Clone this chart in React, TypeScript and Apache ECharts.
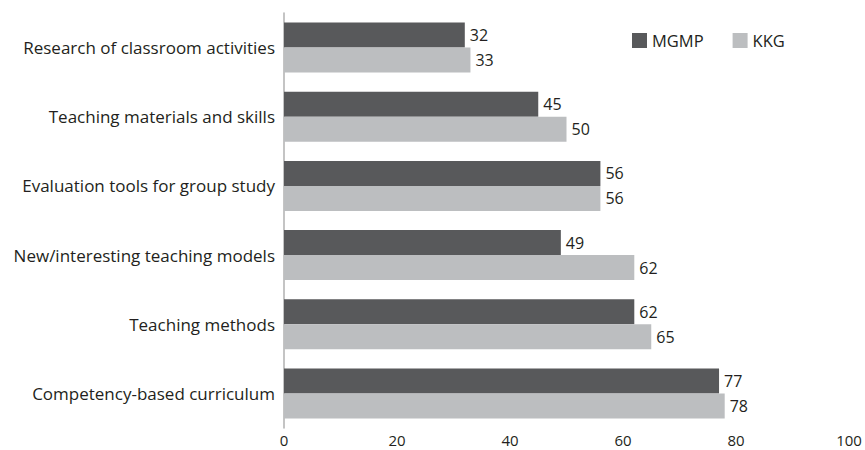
import React, { useEffect, useRef } from "react";
import * as echarts from "echarts";

const categories = [
  "Competency-based curriculum",
  "Teaching methods",
  "New/interesting teaching models",
  "Evaluation tools for group study",
  "Teaching materials and skills",
  "Research of classroom activities",
];
const mgmp = [77, 62, 49, 56, 45, 32];
const kkg = [78, 65, 62, 56, 50, 33];
const xTicks = { min: 0, max: 100, interval: 20 };

const FONT = "'Open Sans', 'Noto Sans', sans-serif";

export default function App() {
  const ref = useRef<HTMLDivElement>(null);
  useEffect(() => {
    const chart = echarts.init(ref.current!, null, { renderer: "svg" });
    const label = {
      show: true,
      position: "right",
      distance: 5,
      color: "#231f20",
      fontSize: 16,
      fontFamily: FONT,
    };
    chart.setOption({
      animation: false,
      textStyle: { fontFamily: FONT },
      legend: {
        left: 632,
        top: 32,
        padding: 0,
        itemWidth: 15,
        itemHeight: 15,
        itemGap: 29,
        icon: "rect",
        textStyle: { fontSize: 16.5, color: "#231f20", fontFamily: FONT },
        data: ["MGMP", "KKG"],
      },
      grid: { left: 284, right: 16, top: 13, bottom: 22, containLabel: false },
      xAxis: {
        type: "value",
        min: xTicks.min,
        max: xTicks.max,
        interval: xTicks.interval,
        axisLine: { show: false },
        axisTick: { show: false },
        splitLine: { show: false },
        axisLabel: {
          color: "#231f20",
          fontSize: 15,
          lineHeight: 15,
          margin: 4,
          fontFamily: FONT,
        },
      },
      yAxis: {
        type: "category",
        data: categories,
        axisLine: { show: true, lineStyle: { color: "#b0b0b0", width: 1.5 } },
        axisTick: { show: false },
        axisLabel: { color: "#231f20", fontSize: 17, margin: 9, fontFamily: FONT },
      },
      series: [
        {
          name: "MGMP",
          type: "bar",
          data: mgmp,
          barWidth: 25,
          barGap: "0%",
          itemStyle: { color: "#58595b" },
          label,
        },
        {
          name: "KKG",
          type: "bar",
          data: kkg,
          barWidth: 25,
          barGap: "0%",
          itemStyle: { color: "#bcbec0" },
          label,
        },
      ],
    });
    return () => chart.dispose();
  }, []);
  return <div ref={ref} style={{ width: 865, height: 450, position: "absolute", left: 0, top: 0 }} />;
}
